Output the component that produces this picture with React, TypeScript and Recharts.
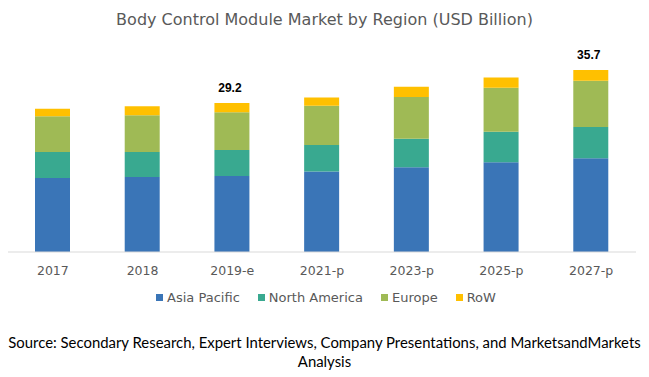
import React from 'react';
import { BarChart, Bar, XAxis, YAxis, Legend, LabelList } from 'recharts';

const categories = ['2017', '2018', '2019-e', '2021-p', '2023-p', '2025-p', '2027-p'];
const asiaPacific = [14.5, 14.7, 14.9, 15.8, 16.6, 17.6, 18.4];
const northAmerica = [5.1, 4.9, 5.1, 5.2, 5.6, 6.0, 6.1];
const europe = [7.0, 7.2, 7.4, 7.7, 8.2, 8.6, 9.1];
const rowRegion = [1.5, 1.8, 1.8, 1.6, 2.0, 2.0, 2.1];
const totalLabels = ['', '', '29.2', '', '', '', '35.7'];

const seriesNames = ['Asia Pacific', 'North America', 'Europe', 'RoW'];
const seriesColors = ['#3A75B7', '#39A990', '#9FBA55', '#FFC000'];

const data = categories.map((c, i) => ({
  year: c,
  ap: asiaPacific[i],
  na: northAmerica[i],
  eu: europe[i],
  row: rowRegion[i],
  total: totalLabels[i],
}));

const renderTotal = (props: any) => {
  const { x, y, width, index } = props;
  const t = totalLabels[index];
  if (!t) return null;
  return (
    <text
      x={Number(x) + Number(width) / 2 - 2}
      y={Number(y) - 11}
      textAnchor="middle"
      fontFamily="Liberation Sans, Arial, sans-serif"
      fontWeight="bold"
      fontSize={12}
      fill="#000"
    >
      {t}
    </text>
  );
};

const renderLegend = () => (
  <div
    style={{
      display: 'flex',
      justifyContent: 'center',
      alignItems: 'center',
      height: 28,
      boxSizing: 'border-box',
      paddingTop: 3,
      marginLeft: 8,
      fontFamily: 'DejaVu Sans, sans-serif',
      fontSize: 13,
      color: '#595959',
    }}
  >
    {seriesNames.map((n, i) => (
      <div
        key={n}
        style={{ display: 'flex', alignItems: 'center', marginRight: i < seriesNames.length - 1 ? 18 : 0 }}
      >
        <span style={{ display: 'inline-block', width: 7, height: 7, background: seriesColors[i], marginRight: 4 }} />
        <span>{n}</span>
      </div>
    ))}
  </div>
);

export default function App() {
  return (
    <div style={{ position: 'absolute', left: 0, top: 0, width: 649, height: 377, background: '#fff' }}>
      <div
        style={{
          position: 'absolute',
          top: 10,
          left: 0,
          width: 649,
          textAlign: 'center',
          fontFamily: 'DejaVu Sans, sans-serif',
          fontSize: 16,
          color: '#595959',
        }}
      >
        Body Control Module Market by Region (USD Billion)
      </div>
      <div style={{ position: 'absolute', left: 0, top: 0 }}>
        <BarChart
          width={649}
          height={310}
          data={data}
          margin={{ top: 48, right: 13, bottom: 0, left: 8 }}
        >
          <XAxis
            dataKey="year"
            axisLine={{ stroke: '#D9D9D9', strokeWidth: 1 }}
            tickLine={false}
            tick={{ fill: '#595959', fontSize: 12.5, fontFamily: 'DejaVu Sans, sans-serif' }}
            tickMargin={8}
          />
          <YAxis hide domain={[0, 40]} />
          <Legend verticalAlign="bottom" height={28} content={renderLegend} />
          <Bar dataKey="ap" name={seriesNames[0]} stackId="a" fill={seriesColors[0]} barSize={35} isAnimationActive={false} />
          <Bar dataKey="na" name={seriesNames[1]} stackId="a" fill={seriesColors[1]} barSize={35} isAnimationActive={false} />
          <Bar dataKey="eu" name={seriesNames[2]} stackId="a" fill={seriesColors[2]} barSize={35} isAnimationActive={false} />
          <Bar dataKey="row" name={seriesNames[3]} stackId="a" fill={seriesColors[3]} barSize={35} isAnimationActive={false}>
            <LabelList dataKey="total" content={renderTotal} />
          </Bar>
        </BarChart>
      </div>
      <div
        style={{
          position: 'absolute',
          top: 333,
          left: 0,
          width: 649,
          textAlign: 'center',
          fontFamily: 'Lato, sans-serif',
          fontSize: 14.9,
          lineHeight: '19px',
          color: '#000',
        }}
      >
        Source: Secondary Research, Expert Interviews, Company Presentations, and MarketsandMarkets
        <br />
        Analysis
      </div>
    </div>
  );
}
